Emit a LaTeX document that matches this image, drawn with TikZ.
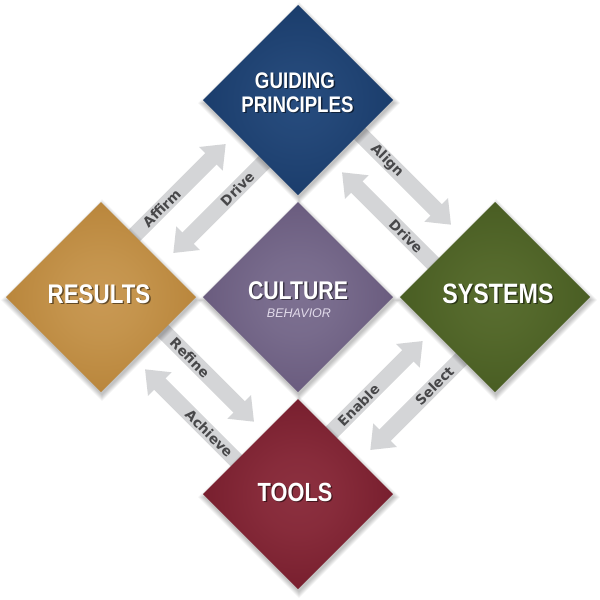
\documentclass[tikz,border=0pt]{standalone}
\usepackage{fontspec}
\setmainfont{Liberation Sans}
\newfontfamily\condfont[FakeStretch=0.83]{Liberation Sans}
\newfontfamily\lblfont{DejaVu Sans}
\usetikzlibrary{shapes.geometric,arrows.meta,calc,backgrounds}
\definecolor{bandgrey}{RGB}{212,213,215}
\definecolor{bandtext}{RGB}{72,72,74}
\definecolor{behav}{RGB}{225,218,234}
\pgfdeclareradialshading{gpsh}{\pgfpoint{0bp}{0bp}}{rgb(0bp)=(0.15,0.30,0.50); rgb(10bp)=(0.14,0.28,0.47); rgb(38bp)=(0.075,0.205,0.385); rgb(50bp)=(0.065,0.19,0.37)}
\pgfdeclareradialshading{resh}{\pgfpoint{0bp}{0bp}}{rgb(0bp)=(0.79,0.60,0.33); rgb(10bp)=(0.77,0.58,0.30); rgb(38bp)=(0.69,0.48,0.18); rgb(50bp)=(0.66,0.45,0.15)}
\pgfdeclareradialshading{cush}{\pgfpoint{0bp}{0bp}}{rgb(0bp)=(0.49,0.44,0.57); rgb(10bp)=(0.47,0.42,0.55); rgb(38bp)=(0.37,0.31,0.45); rgb(50bp)=(0.34,0.28,0.42)}
\pgfdeclareradialshading{sysh}{\pgfpoint{0bp}{0bp}}{rgb(0bp)=(0.35,0.43,0.19); rgb(10bp)=(0.33,0.41,0.17); rgb(38bp)=(0.25,0.33,0.11); rgb(50bp)=(0.22,0.30,0.09)}
\pgfdeclareradialshading{tosh}{\pgfpoint{0bp}{0bp}}{rgb(0bp)=(0.55,0.19,0.25); rgb(10bp)=(0.53,0.17,0.23); rgb(38bp)=(0.42,0.08,0.14); rgb(50bp)=(0.38,0.05,0.11)}
\newcommand\diashadow[2]{%
  \foreach \k in {0,...,6}{%
    \fill[black,opacity=0.035] ({#1+1},{#2+3-95-\k}) -- ({#1+1+95+\k},{#2+3}) -- ({#1+1},{#2+3+95+\k}) -- ({#1+1-95-\k},{#2+3}) -- cycle;}}
\begin{document}
\begin{tikzpicture}[x=0.75pt,y=-0.75pt,
  dia/.style={diamond, aspect=1, inner sep=0pt, outer sep=0pt,
    minimum width=142.5pt, minimum height=142.5pt},
  title/.style={text=white, font=\condfont\bfseries, anchor=base, inner sep=0pt},
  tshadow/.style={text=black, opacity=0.5, font=\condfont\bfseries, anchor=base, inner sep=0pt},
  flow/.style={draw=bandgrey, line width=12pt, -{Triangle[width=24pt,length=15.75pt]}},
  flowlbl/.style={sloped, pos=0.32, inner sep=0pt, text=bandtext,
    font=\lblfont\bfseries\fontsize{10.3}{11}\selectfont}
]
\useasboundingbox (0,0) rectangle (600,600);
% diamonds
\node[dia, shading=gpsh] (gp) at (298,100) {};
\node[dia, shading=resh] (res) at (101,297) {};
\node[dia, shading=sysh] (sys) at (495,297) {};
\node[dia, shading=tosh] (tools) at (298,494) {};
\node[dia, shading=cush] (cult) at (298,297) {};
% titles
\foreach \t/\x/\y/\s in {GUIDING/295/88/16.9, PRINCIPLES/297.5/112/16.9, RESULTS/99/303/20.2, SYSTEMS/498/303/21, TOOLS/295/501/19.7, CULTURE/298/299/19.2}{
  \node[tshadow, font=\condfont\bfseries\fontsize{\s}{\s}\selectfont] (sh\t) at (\x+1.4,\y+1.4) {\t};
  \node[title, font=\condfont\bfseries\fontsize{\s}{\s}\selectfont] (tx\t) at (\x,\y) {\t};
}
\node[anchor=base, inner sep=0pt, text=behav, font=\itshape\fontsize{9.4}{9.4}\selectfont] (behav) at (299,317) {BEHAVIOR};
% arrow end points
\coordinate (aT) at ($(res)!0.2261!(gp)+(-14.14,-14.14)$);
\coordinate (aH) at ($(res)!0.705!(gp)+(-14.14,-14.14)$);
\coordinate (bT) at ($(gp)!0.2261!(res)+(14.14,14.14)$);
\coordinate (bH) at ($(gp)!0.705!(res)+(14.14,14.14)$);
\coordinate (cT) at ($(gp)!0.2261!(sys)+(14.14,-14.14)$);
\coordinate (cH) at ($(gp)!0.705!(sys)+(14.14,-14.14)$);
\coordinate (dT) at ($(sys)!0.2261!(gp)+(-14.14,14.14)$);
\coordinate (dH) at ($(sys)!0.705!(gp)+(-14.14,14.14)$);
\coordinate (eT) at ($(res)!0.2261!(tools)+(14.14,-14.14)$);
\coordinate (eH) at ($(res)!0.705!(tools)+(14.14,-14.14)$);
\coordinate (fT) at ($(tools)!0.2261!(res)+(-14.14,14.14)$);
\coordinate (fH) at ($(tools)!0.705!(res)+(-14.14,14.14)$);
\coordinate (gT) at ($(tools)!0.2261!(sys)+(-14.14,-14.14)$);
\coordinate (gH) at ($(tools)!0.705!(sys)+(-14.14,-14.14)$);
\coordinate (hT) at ($(sys)!0.2261!(tools)+(14.14,14.14)$);
\coordinate (hH) at ($(sys)!0.705!(tools)+(14.14,14.14)$);
\begin{pgfonlayer}{background}
  \fill[white] (0,0) rectangle (600,600);
  \draw[flow] (aT) -- node[flowlbl] (lAffirm) {Affirm} (aH);
  \draw[flow] (bT) -- node[flowlbl] (lDrive1) {Drive} (bH);
  \draw[flow] (cT) -- node[flowlbl] (lAlign) {Align} (cH);
  \draw[flow] (dT) -- node[flowlbl] (lDrive2) {Drive} (dH);
  \draw[flow] (eT) -- node[flowlbl] (lRefine) {Refine} (eH);
  \draw[flow] (fT) -- node[flowlbl] (lAchieve) {Achieve} (fH);
  \draw[flow] (gT) -- node[flowlbl] (lEnable) {Enable} (gH);
  \draw[flow] (hT) -- node[flowlbl] (lSelect) {Select} (hH);
  \diashadow{298}{100}
  \diashadow{101}{297}
  \diashadow{495}{297}
  \diashadow{298}{494}
  \diashadow{298}{297}
\end{pgfonlayer}
\end{tikzpicture}
\end{document}
